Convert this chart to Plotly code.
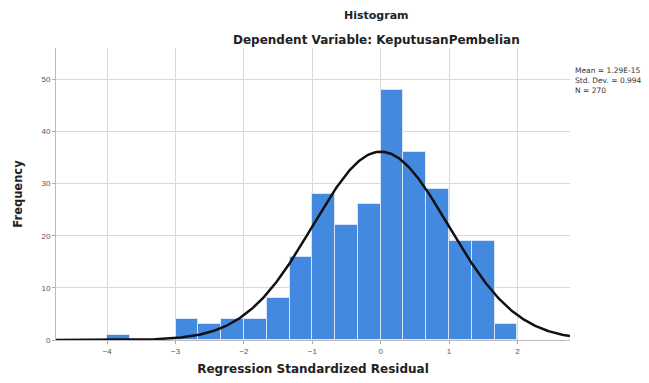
import numpy as np
import plotly.graph_objects as go

bin_starts = [-4.0, -3.0, -2.6667, -2.3333, -2.0, -1.6667, -1.3333, -1.0, -0.6667,
              -0.3333, 0.0, 0.3333, 0.6667, 1.0, 1.3333, 1.6667]
frequencies = [1, 4, 3, 4, 4, 8, 16, 28, 22, 26, 48, 36, 29, 19, 19, 3]
bin_width = 1 / 3
mean_val = 0.0
std_dev = 0.994
n_obs = 270
x_ticks = [-4, -3, -2, -1, 0, 1, 2]
y_ticks = [0, 10, 20, 30, 40, 50]

centers = [s + bin_width / 2 for s in bin_starts]
xs = np.linspace(-4.75, 2.77, 400)
ys = n_obs * bin_width / (std_dev * np.sqrt(2 * np.pi)) * np.exp(-0.5 * ((xs - mean_val) / std_dev) ** 2)

TF = "DejaVu Sans, Liberation Sans, Arial"

fig = go.Figure()
fig.add_trace(go.Bar(x=centers, y=frequencies, width=bin_width,
                     marker=dict(color="#4389e0", line=dict(color="#d6e6f8", width=1)),
                     showlegend=False))
fig.add_trace(go.Scatter(x=xs, y=ys, mode="lines", line=dict(color="#111111", width=2.5),
                         showlegend=False))

fig.update_layout(
    width=649, height=383,
    margin=dict(l=48, r=87, t=40, b=51),
    plot_bgcolor="white", paper_bgcolor="white",
    font=dict(family="Liberation Sans, Arial", color="#333"),
    bargap=0,
    xaxis=dict(range=[-4.75, 2.77], tickvals=x_ticks, ticks="outside", ticklen=3,
               tickcolor="#aaa", tickfont=dict(size=8, color="#555"),
               showgrid=True, gridcolor="#d9d9d9", gridwidth=1, automargin=False,
               showline=True, linecolor="#bbb", zeroline=False,
               title=dict(text="<b>Regression Standardized Residual</b>",
                          font=dict(family=TF, size=12, color="#222"), standoff=10)),
    yaxis=dict(range=[0, 56], tickvals=y_ticks, ticks="outside", ticklen=3,
               tickcolor="#aaa", tickfont=dict(size=8, color="#555"),
               showgrid=True, gridcolor="#d9d9d9", gridwidth=1, automargin=False,
               showline=True, linecolor="#bbb", zeroline=False,
               title=dict(text="<b>Frequency</b>", font=dict(family=TF, size=11.5, color="#222"), standoff=16)),
)
title_x = (376 - 56) / 514
fig.add_annotation(text="<b>Histogram</b>", xref="paper", yref="paper", x=title_x, y=1,
                   yshift=33, showarrow=False, font=dict(family=TF, size=11, color="#222"),
                   xanchor="center", yanchor="middle")
fig.add_annotation(text="<b>Dependent Variable: KeputusanPembelian</b>", xref="paper", yref="paper",
                   x=title_x, y=1, yshift=8, showarrow=False, font=dict(family=TF, size=12, color="#222"),
                   xanchor="center", yanchor="middle")
fig.add_annotation(text="Mean = 1.29E-15<br>Std. Dev. = 0.994<br>N = 270", xref="paper", yref="paper",
                   x=1, y=1, xshift=3, yshift=-16, showarrow=False, align="left",
                   font=dict(family=TF, size=7.5, color="#333"), xanchor="left", yanchor="top")

fig.write_html("out.html")
